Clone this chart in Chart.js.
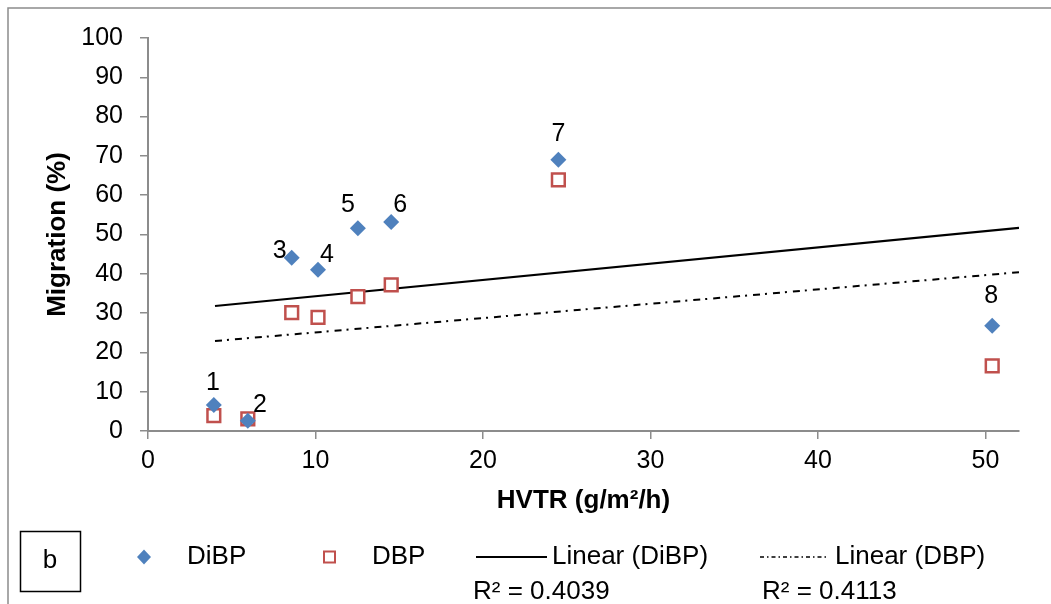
<!DOCTYPE html>
<html>
<head>
<meta charset="utf-8">
<script src="https://cdn.jsdelivr.net/npm/chart.js@4.4.1/dist/chart.umd.min.js"></script>
<style>
  html, body { margin: 0; padding: 0; background: #fff; }
  #wrap { width: 1051px; height: 604px; }
</style>
</head>
<body>
<div id="wrap"><canvas id="grafico" width="1051" height="604"></canvas></div>
<script>
// datos
const hvtr = [3.93, 5.96, 8.58, 10.15, 12.53, 14.52, 24.5, 50.4];
const dibp = [6.6, 2.6, 44.1, 41.0, 51.6, 53.2, 69.0, 26.8];
const dbp = [3.9, 3.1, 30.1, 28.9, 34.2, 37.2, 63.9, 16.6];
const pointLabels = ["1", "2", "3", "4", "5", "6", "7", "8"];

// lineas de tendencia (extremos)
const trendX = [4, 52];
const trendDibp = [31.8, 51.7];
const trendDbp = [22.9, 40.4];
const r2 = ["0.4039", "0.4113"];

const xTickValues = [0, 10, 20, 30, 40, 50];
const yTickValues = [0, 10, 20, 30, 40, 50, 60, 70, 80, 90, 100];

const FONT = '"Liberation Sans", Arial, sans-serif';
const azul = "#4F81BD";
const rojo = "#C0504D";
const gris = "#8c8c8c";

const toPts = (xs, ys) => xs.map((x, i) => ({ x: x, y: ys[i] }));

// desplazamiento de los numeros respecto al punto
const labelOffsets = [[-1, -22], [12, -16], [-12, -7], [9, -15], [-10, -23], [9, -17], [0, -26], [-1, -30]];

const extras = {
  id: "extras",
  beforeDraw(chart) {
    const ctx = chart.ctx;
    ctx.save();
    ctx.fillStyle = "#fff";
    ctx.fillRect(0, 0, chart.width, chart.height);
    ctx.strokeStyle = gris;
    ctx.lineWidth = 1.5;
    ctx.strokeRect(8, 8, 1200, 800);
    ctx.restore();
  },
  afterDatasetsDraw(chart) {
    const ctx = chart.ctx;
    const meta = chart.getDatasetMeta(0);
    ctx.save();
    ctx.fillStyle = "#000";
    ctx.font = "25px " + FONT;
    ctx.textAlign = "center";
    ctx.textBaseline = "middle";
    meta.data.forEach((pt, i) => {
      ctx.fillText(pointLabels[i], pt.x + labelOffsets[i][0], pt.y + labelOffsets[i][1]);
    });
    ctx.restore();
  },
  afterDraw(chart) {
    const ctx = chart.ctx;
    const ly = 557;
    ctx.save();
    // cuadro "b"
    ctx.strokeStyle = "#000";
    ctx.lineWidth = 1.5;
    ctx.strokeRect(20.5, 531.5, 60, 60);
    ctx.fillStyle = "#000";
    ctx.font = "26px " + FONT;
    ctx.textAlign = "center";
    ctx.textBaseline = "middle";
    ctx.fillText("b", 50, 561);

    // rombo DiBP
    ctx.fillStyle = azul;
    ctx.beginPath();
    ctx.moveTo(144 - 7, ly);
    ctx.lineTo(144, ly - 7.5);
    ctx.lineTo(144 + 7, ly);
    ctx.lineTo(144, ly + 7.5);
    ctx.closePath();
    ctx.fill();

    // cuadro DBP
    ctx.strokeStyle = rojo;
    ctx.lineWidth = 2;
    ctx.fillStyle = "#fff";
    ctx.fillRect(324, ly - 5.5, 11, 11);
    ctx.strokeRect(324, ly - 5.5, 11, 11);

    // lineas
    ctx.strokeStyle = "#000";
    ctx.lineWidth = 2;
    ctx.beginPath();
    ctx.moveTo(476, ly);
    ctx.lineTo(547, ly);
    ctx.stroke();
    ctx.lineWidth = 1.5;
    ctx.setLineDash([4, 3, 1.5, 3]);
    ctx.beginPath();
    ctx.moveTo(760, ly);
    ctx.lineTo(826, ly);
    ctx.stroke();
    ctx.setLineDash([]);

    ctx.fillStyle = "#000";
    ctx.textAlign = "left";
    ctx.fillText("DiBP", 187, ly);
    ctx.fillText("DBP", 372, ly);
    ctx.fillText("Linear (DiBP)", 552, ly);
    ctx.fillText("Linear (DBP)", 835, ly);
    ctx.fillText("R\u00B2 = " + r2[0], 473, 592);
    ctx.fillText("R\u00B2 = " + r2[1], 762, 592);
    ctx.restore();
  }
};

new Chart(document.getElementById("grafico").getContext("2d"), {
  type: "scatter",
  data: {
    datasets: [
      {
        label: "DiBP",
        data: toPts(hvtr, dibp),
        pointStyle: "rectRot",
        pointRadius: 8,
        backgroundColor: azul,
        borderColor: azul,
        borderWidth: 0,
        order: 1
      },
      {
        label: "DBP",
        data: toPts(hvtr, dbp),
        pointStyle: "rect",
        pointRadius: 9,
        backgroundColor: "#fff",
        borderColor: rojo,
        borderWidth: 2.5,
        order: 2
      },
      {
        label: "Linear (DiBP)",
        data: toPts(trendX, trendDibp),
        showLine: true,
        pointRadius: 0,
        borderColor: "#000",
        borderWidth: 2.2,
        order: 3
      },
      {
        label: "Linear (DBP)",
        data: toPts(trendX, trendDbp),
        showLine: true,
        pointRadius: 0,
        borderColor: "#000",
        borderWidth: 2,
        borderDash: [7, 5, 2, 6],
        order: 4
      }
    ]
  },
  options: {
    responsive: false,
    animation: false,
    layout: { padding: { left: 0, right: 32, top: 38, bottom: 0 } },
    plugins: {
      legend: { display: false },
      tooltip: { enabled: false }
    },
    scales: {
      x: {
        type: "linear",
        min: 0,
        max: 52,
        afterBuildTicks: (s) => { s.ticks = xTickValues.map(v => ({ value: v })); },
        afterFit: (s) => { s.height = 173; },
        ticks: { color: "#000", font: { family: FONT, size: 25 }, padding: 7 },
        grid: { drawOnChartArea: false, drawTicks: true, tickLength: 8, color: gris, lineWidth: 1.5 },
        border: { color: gris, width: 2 },
        title: {
          display: true,
          text: "HVTR (g/m\u00B2/h)",
          color: "#000",
          font: { family: FONT, size: 26, weight: "bold" },
          padding: { top: 0, bottom: 88 }
        }
      },
      y: {
        min: 0,
        max: 100,
        afterBuildTicks: (s) => { s.ticks = yTickValues.map(v => ({ value: v })); },
        afterFit: (s) => { s.width = 148; },
        ticks: { color: "#000", font: { family: FONT, size: 25 }, padding: 17 },
        grid: { drawOnChartArea: false, drawTicks: true, tickLength: 8, color: gris, lineWidth: 1.5 },
        border: { color: gris, width: 2 },
        title: {
          display: true,
          text: "Migration (%)",
          color: "#000",
          font: { family: FONT, size: 26, weight: "bold" },
          padding: { top: 42, bottom: 0 }
        }
      }
    }
  },
  plugins: [extras]
});
</script>
</body>
</html>
